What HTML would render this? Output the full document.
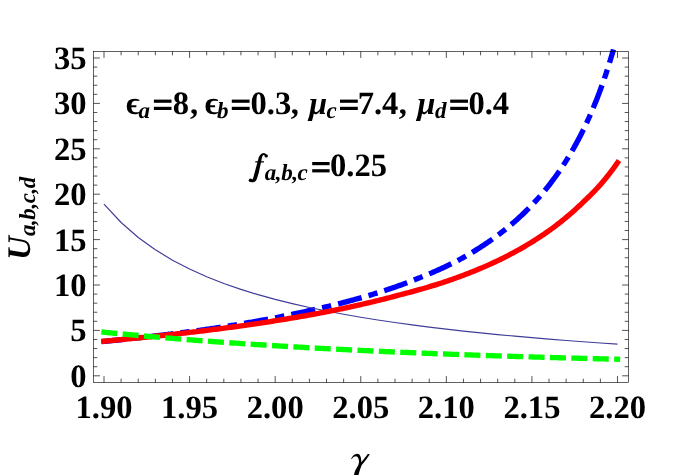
<!DOCTYPE html>
<html><head><meta charset="utf-8"><title>plot</title>
<style>html,body{margin:0;padding:0;background:#fff;}body{width:678px;height:475px;position:relative;overflow:hidden;font-family:"Liberation Serif",serif;}</style></head>
<body>
<svg width="678" height="475" viewBox="0 0 678 475" style="position:absolute;left:0;top:0;will-change:transform" text-rendering="geometricPrecision">
<rect width="678" height="475" fill="#fff"/>
<clipPath id="cp"><rect x="0" y="49" width="678" height="426"/></clipPath><g clip-path="url(#cp)">
<path d="M104.00,341.40 L105.28,341.27 L106.55,341.15 L107.83,341.02 L109.10,340.89 L110.38,340.77 L111.65,340.64 L112.93,340.51 L114.20,340.38 L115.48,340.25 L116.75,340.12 L118.03,339.99 L119.30,339.86 L120.58,339.73 L121.85,339.59 L123.13,339.46 L124.40,339.33 L125.68,339.19 L126.95,339.06 L128.23,338.92 L129.50,338.79 L130.78,338.65 L132.05,338.51 L133.33,338.38 L134.60,338.24 L135.88,338.10 L137.15,337.96 L138.43,337.82 L139.70,337.68 L140.98,337.54 L142.25,337.40 L143.53,337.25 L144.80,337.11 L146.08,336.97 L147.35,336.82 L148.63,336.68 L149.90,336.53 L151.18,336.39 L152.45,336.24 L153.73,336.09 L155.00,335.94 L156.28,335.80 L157.55,335.65 L158.83,335.50 L160.10,335.35 L161.38,335.19 L162.65,335.04 L163.93,334.89 L165.20,334.74 L166.48,334.58 L167.75,334.43 L169.03,334.27 L170.30,334.12 L171.58,333.96 L172.85,333.80 L174.13,333.64 L175.40,333.48 L176.68,333.32 L177.95,333.16 L179.23,333.00 L180.50,332.84 L181.78,332.68 L183.05,332.51 L184.33,332.35 L185.60,332.18 L186.88,332.02 L188.15,331.85 L189.43,331.68 L190.70,331.51 L191.98,331.35 L193.26,331.18 L194.53,331.01 L195.81,330.83 L197.08,330.66 L198.36,330.49 L199.63,330.31 L200.91,330.14 L202.18,329.96 L203.46,329.79 L204.73,329.61 L206.01,329.43 L207.28,329.25 L208.56,329.06 L209.83,328.87 L211.11,328.68 L212.38,328.49 L213.66,328.29 L214.93,328.10 L216.21,327.91 L217.48,327.71 L218.76,327.51 L220.03,327.32 L221.31,327.12 L222.58,326.92 L223.86,326.72 L225.13,326.52 L226.41,326.32 L227.68,326.11 L228.96,325.91 L230.23,325.70 L231.51,325.50 L232.78,325.29 L234.06,325.08 L235.33,324.87 L236.61,324.66 L237.88,324.45 L239.16,324.24 L240.43,324.03 L241.71,323.81 L242.98,323.60 L244.26,323.38 L245.53,323.16 L246.81,322.94 L248.08,322.72 L249.36,322.50 L250.63,322.28 L251.91,322.06 L253.18,321.83 L254.46,321.61 L255.73,321.38 L257.01,321.15 L258.28,320.92 L259.56,320.69 L260.83,320.46 L262.11,320.23 L263.38,319.99 L264.66,319.76 L265.93,319.52 L267.21,319.28 L268.48,319.05 L269.76,318.81 L271.03,318.56 L272.31,318.32 L273.58,318.08 L274.86,317.83 L276.13,317.58 L277.41,317.34 L278.68,317.09 L279.96,316.83 L281.24,316.58 L282.51,316.33 L283.79,316.07 L285.06,315.82 L286.34,315.56 L287.61,315.30 L288.89,315.04 L290.16,314.77 L291.44,314.51 L292.71,314.25 L293.99,313.98 L295.26,313.71 L296.54,313.44 L297.81,313.17 L299.09,312.89 L300.36,312.62 L301.64,312.34 L302.91,312.07 L304.19,311.79 L305.46,311.50 L306.74,311.22 L308.01,310.94 L309.29,310.65 L310.56,310.37 L311.84,310.09 L313.11,309.81 L314.39,309.52 L315.66,309.24 L316.94,308.95 L318.21,308.66 L319.49,308.37 L320.76,308.07 L322.04,307.78 L323.31,307.48 L324.59,307.18 L325.86,306.88 L327.14,306.58 L328.41,306.27 L329.69,305.97 L330.96,305.66 L332.24,305.35 L333.51,305.03 L334.79,304.72 L336.06,304.40 L337.34,304.08 L338.61,303.76 L339.89,303.44 L341.16,303.11 L342.44,302.79 L343.71,302.46 L344.99,302.12 L346.26,301.79 L347.54,301.45 L348.81,301.11 L350.09,300.77 L351.36,300.43 L352.64,300.08 L353.91,299.74 L355.19,299.38 L356.46,299.03 L357.74,298.68 L359.01,298.32 L360.29,297.96 L361.56,297.59 L362.84,297.23 L364.11,296.86 L365.39,296.49 L366.66,296.11 L367.94,295.74 L369.22,295.36 L370.49,294.98 L371.77,294.59 L373.04,294.21 L374.32,293.81 L375.59,293.42 L376.87,293.03 L378.14,292.63 L379.42,292.22 L380.69,291.82 L381.97,291.41 L383.24,291.00 L384.52,290.59 L385.79,290.17 L387.07,289.75 L388.34,289.32 L389.62,288.90 L390.89,288.47 L392.17,288.03 L393.44,287.60 L394.72,287.16 L395.99,286.71 L397.27,286.26 L398.54,285.81 L399.82,285.36 L401.09,284.90 L402.37,284.44 L403.64,283.97 L404.92,283.50 L406.19,283.03 L407.47,282.55 L408.74,282.07 L410.02,281.59 L411.29,281.10 L412.57,280.60 L413.84,280.11 L415.12,279.61 L416.39,279.10 L417.67,278.59 L418.94,278.08 L420.22,277.56 L421.49,277.05 L422.77,276.54 L424.04,276.03 L425.32,275.51 L426.59,274.98 L427.87,274.45 L429.14,273.92 L430.42,273.38 L431.69,272.83 L432.97,272.28 L434.24,271.73 L435.52,271.17 L436.79,270.60 L438.07,270.03 L439.34,269.46 L440.62,268.87 L441.89,268.29 L443.17,267.70 L444.44,267.10 L445.72,266.49 L446.99,265.89 L448.27,265.27 L449.54,264.65 L450.82,264.02 L452.09,263.39 L453.37,262.75 L454.64,262.10 L455.92,261.45 L457.20,260.79 L458.47,260.13 L459.75,259.45 L461.02,258.76 L462.30,258.06 L463.57,257.35 L464.85,256.63 L466.12,255.91 L467.40,255.18 L468.67,254.44 L469.95,253.69 L471.22,252.94 L472.50,252.18 L473.77,251.41 L475.05,250.63 L476.32,249.85 L477.60,249.05 L478.87,248.25 L480.15,247.44 L481.42,246.62 L482.70,245.79 L483.97,244.95 L485.25,244.10 L486.52,243.25 L487.80,242.38 L489.07,241.50 L490.35,240.62 L491.62,239.72 L492.90,238.82 L494.17,237.90 L495.45,236.97 L496.72,236.03 L498.00,235.09 L499.27,234.13 L500.55,233.15 L501.82,232.17 L503.10,231.18 L504.37,230.17 L505.65,229.15 L506.92,228.12 L508.20,227.08 L509.47,226.02 L510.75,224.95 L512.02,223.87 L513.30,222.77 L514.57,221.66 L515.85,220.53 L517.12,219.39 L518.40,218.24 L519.67,217.07 L520.95,215.89 L522.22,214.69 L523.50,213.47 L524.77,212.24 L526.05,210.99 L527.32,209.72 L528.60,208.44 L529.87,207.14 L531.15,205.82 L532.42,204.48 L533.70,203.13 L534.97,201.75 L536.25,200.36 L537.52,198.94 L538.80,197.51 L540.07,196.05 L541.35,194.57 L542.62,193.07 L543.90,191.55 L545.18,190.00 L546.45,188.44 L547.73,186.84 L549.00,185.23 L550.28,183.58 L551.55,181.91 L552.83,180.22 L554.10,178.50 L555.38,176.75 L556.65,174.97 L557.93,173.17 L559.20,171.33 L560.48,169.46 L561.75,167.56 L563.03,165.63 L564.30,163.67 L565.58,161.67 L566.85,159.64 L568.13,157.57 L569.40,155.47 L570.68,153.33 L571.95,151.15 L573.23,148.93 L574.50,146.67 L575.78,144.36 L577.05,142.02 L578.33,139.63 L579.60,137.19 L580.88,134.71 L582.15,132.18 L583.43,129.60 L584.70,126.96 L585.98,124.28 L587.25,121.54 L588.53,118.74 L589.80,115.89 L591.08,112.97 L592.35,110.00 L593.63,106.96 L594.90,103.85 L596.18,100.68 L597.45,97.43 L598.73,94.12 L600.00,90.72 L601.28,87.25 L602.55,83.70 L603.83,80.07 L605.10,76.34 L606.38,72.53 L607.65,68.63 L608.93,64.62 L610.20,60.52 L611.48,56.32 L612.75,52.00" fill="none" stroke="#0000ff" stroke-width="5.35" stroke-linecap="square" stroke-dasharray="19 12.5 4 12.5" stroke-dashoffset="0"/>
<path d="M104.00,204.02 L121.12,222.51 L138.23,237.45 L155.35,249.79 L172.47,260.18 L189.58,269.05 L206.70,276.73 L223.82,283.45 L240.93,289.38 L258.05,294.66 L275.17,299.39 L292.28,303.65 L309.40,307.52 L326.52,311.05 L343.63,314.28 L360.75,317.25 L377.87,319.99 L394.98,322.53 L412.10,324.89 L429.22,327.08 L446.33,329.14 L463.45,331.06 L480.57,332.86 L497.68,334.56 L514.80,336.16 L531.92,337.67 L549.03,339.10 L566.15,340.46 L583.27,341.74 L600.38,342.96 L617.50,344.13" fill="none" stroke="#3f3d99" stroke-width="1.15" stroke-linejoin="round"/>
<path d="M104.00,341.20 L105.72,341.04 L107.43,340.89 L109.15,340.73 L110.87,340.57 L112.59,340.42 L114.30,340.26 L116.02,340.10 L117.74,339.94 L119.46,339.78 L121.17,339.62 L122.89,339.45 L124.61,339.29 L126.33,339.13 L128.04,338.96 L129.76,338.80 L131.48,338.63 L133.20,338.46 L134.91,338.29 L136.63,338.12 L138.35,337.95 L140.07,337.78 L141.78,337.61 L143.50,337.44 L145.22,337.26 L146.93,337.09 L148.65,336.91 L150.37,336.74 L152.09,336.56 L153.80,336.38 L155.52,336.20 L157.24,336.02 L158.96,335.84 L160.67,335.66 L162.39,335.47 L164.11,335.29 L165.83,335.10 L167.54,334.92 L169.26,334.73 L170.98,334.54 L172.70,334.35 L174.41,334.16 L176.13,333.97 L177.85,333.78 L179.57,333.58 L181.28,333.39 L183.00,333.19 L184.72,333.00 L186.43,332.80 L188.15,332.60 L189.87,332.40 L191.59,332.20 L193.30,332.00 L195.02,331.79 L196.74,331.59 L198.46,331.38 L200.17,331.17 L201.89,330.97 L203.61,330.76 L205.33,330.54 L207.04,330.33 L208.76,330.12 L210.48,329.91 L212.20,329.69 L213.91,329.47 L215.63,329.25 L217.35,329.03 L219.07,328.81 L220.78,328.59 L222.50,328.37 L224.22,328.14 L225.93,327.92 L227.65,327.69 L229.37,327.46 L231.09,327.23 L232.80,327.00 L234.52,326.76 L236.24,326.53 L237.96,326.29 L239.67,326.06 L241.39,325.82 L243.11,325.58 L244.83,325.34 L246.54,325.09 L248.26,324.85 L249.98,324.60 L251.70,324.35 L253.41,324.10 L255.13,323.85 L256.85,323.60 L258.57,323.34 L260.28,323.09 L262.00,322.83 L263.72,322.57 L265.43,322.31 L267.15,322.05 L268.87,321.78 L270.59,321.52 L272.30,321.25 L274.02,320.98 L275.74,320.71 L277.46,320.43 L279.17,320.16 L280.89,319.88 L282.61,319.60 L284.33,319.32 L286.04,319.04 L287.76,318.76 L289.48,318.47 L291.20,318.18 L292.91,317.89 L294.63,317.60 L296.35,317.30 L298.07,317.01 L299.78,316.71 L301.50,316.41 L303.22,316.11 L304.93,315.80 L306.65,315.50 L308.37,315.19 L310.09,314.88 L311.80,314.56 L313.52,314.25 L315.24,313.93 L316.96,313.61 L318.67,313.29 L320.39,312.96 L322.11,312.64 L323.83,312.31 L325.54,311.97 L327.26,311.64 L328.98,311.30 L330.70,310.96 L332.41,310.62 L334.13,310.28 L335.85,309.93 L337.57,309.58 L339.28,309.23 L341.00,308.87 L342.72,308.52 L344.43,308.16 L346.15,307.79 L347.87,307.43 L349.59,307.06 L351.30,306.69 L353.02,306.31 L354.74,305.94 L356.46,305.56 L358.17,305.17 L359.89,304.79 L361.61,304.40 L363.33,304.01 L365.04,303.61 L366.76,303.21 L368.48,302.81 L370.20,302.41 L371.91,302.00 L373.63,301.59 L375.35,301.17 L377.07,300.75 L378.78,300.33 L380.50,299.90 L382.22,299.48 L383.93,299.04 L385.65,298.61 L387.37,298.17 L389.09,297.72 L390.80,297.28 L392.52,296.83 L394.24,296.37 L395.96,295.91 L397.67,295.45 L399.39,294.98 L401.11,294.53 L402.83,294.09 L404.54,293.65 L406.26,293.20 L407.98,292.74 L409.70,292.29 L411.41,291.82 L413.13,291.36 L414.85,290.89 L416.57,290.41 L418.28,289.93 L420.00,289.44 L421.72,288.95 L423.43,288.46 L425.15,287.96 L426.87,287.45 L428.59,286.94 L430.30,286.43 L432.02,285.91 L433.74,285.38 L435.46,284.85 L437.17,284.32 L438.89,283.77 L440.61,283.23 L442.33,282.67 L444.04,282.11 L445.76,281.55 L447.48,280.98 L449.20,280.40 L450.91,279.81 L452.63,279.20 L454.35,278.59 L456.07,277.97 L457.78,277.35 L459.50,276.71 L461.22,276.07 L462.93,275.43 L464.65,274.78 L466.37,274.12 L468.09,273.45 L469.80,272.78 L471.52,272.09 L473.24,271.40 L474.96,270.71 L476.67,270.00 L478.39,269.29 L480.11,268.57 L481.83,267.84 L483.54,267.11 L485.26,266.36 L486.98,265.61 L488.70,264.84 L490.41,264.07 L492.13,263.29 L493.85,262.50 L495.57,261.71 L497.28,260.90 L499.00,260.08 L500.72,259.25 L502.43,258.39 L504.15,257.53 L505.87,256.66 L507.59,255.78 L509.30,254.88 L511.02,253.98 L512.74,253.07 L514.46,252.14 L516.17,251.20 L517.89,250.25 L519.61,249.29 L521.33,248.31 L523.04,247.33 L524.76,246.33 L526.48,245.31 L528.20,244.29 L529.91,243.25 L531.63,242.20 L533.35,241.13 L535.07,240.05 L536.78,238.95 L538.50,237.84 L540.22,236.72 L541.93,235.57 L543.65,234.42 L545.37,233.24 L547.09,232.05 L548.80,230.85 L550.52,229.62 L552.24,228.36 L553.96,227.08 L555.67,225.78 L557.39,224.47 L559.11,223.13 L560.83,221.78 L562.54,220.40 L564.26,219.01 L565.98,217.59 L567.70,216.15 L569.41,214.69 L571.13,213.21 L572.85,211.71 L574.57,210.18 L576.28,208.63 L578.00,207.05 L579.72,205.44 L581.43,203.82 L583.15,202.16 L584.87,200.52 L586.59,198.89 L588.30,197.24 L590.02,195.56 L591.74,193.84 L593.46,192.10 L595.17,190.32 L596.89,188.51 L598.61,186.67 L600.33,184.79 L602.04,182.81 L603.76,180.73 L605.48,178.63 L607.20,176.48 L608.91,174.29 L610.63,172.06 L612.35,169.79 L614.07,167.48 L615.78,165.12 L617.50,162.72" fill="none" stroke="#ff0000" stroke-width="5.35" stroke-linecap="square"/>
<path d="M104.00,332.24 L105.72,332.41 L107.43,332.58 L109.15,332.75 L110.87,332.91 L112.59,333.08 L114.30,333.25 L116.02,333.41 L117.74,333.57 L119.46,333.74 L121.17,333.90 L122.89,334.06 L124.61,334.22 L126.33,334.38 L128.04,334.54 L129.76,334.70 L131.48,334.86 L133.20,335.02 L134.91,335.17 L136.63,335.33 L138.35,335.49 L140.07,335.64 L141.78,335.79 L143.50,335.95 L145.22,336.10 L146.93,336.25 L148.65,336.40 L150.37,336.55 L152.09,336.70 L153.80,336.85 L155.52,337.00 L157.24,337.14 L158.96,337.29 L160.67,337.44 L162.39,337.58 L164.11,337.72 L165.83,337.87 L167.54,338.01 L169.26,338.15 L170.98,338.29 L172.70,338.44 L174.41,338.58 L176.13,338.72 L177.85,338.85 L179.57,338.99 L181.28,339.13 L183.00,339.27 L184.72,339.40 L186.43,339.54 L188.15,339.67 L189.87,339.81 L191.59,339.94 L193.30,340.07 L195.02,340.21 L196.74,340.34 L198.46,340.47 L200.17,340.60 L201.89,340.73 L203.61,340.86 L205.33,340.99 L207.04,341.11 L208.76,341.24 L210.48,341.37 L212.20,341.49 L213.91,341.62 L215.63,341.74 L217.35,341.87 L219.07,341.99 L220.78,342.12 L222.50,342.24 L224.22,342.36 L225.93,342.48 L227.65,342.60 L229.37,342.72 L231.09,342.84 L232.80,342.96 L234.52,343.08 L236.24,343.20 L237.96,343.31 L239.67,343.43 L241.39,343.55 L243.11,343.66 L244.83,343.78 L246.54,343.89 L248.26,344.01 L249.98,344.12 L251.70,344.23 L253.41,344.34 L255.13,344.46 L256.85,344.57 L258.57,344.68 L260.28,344.79 L262.00,344.90 L263.72,345.01 L265.43,345.12 L267.15,345.22 L268.87,345.33 L270.59,345.44 L272.30,345.54 L274.02,345.65 L275.74,345.76 L277.46,345.86 L279.17,345.97 L280.89,346.07 L282.61,346.17 L284.33,346.28 L286.04,346.38 L287.76,346.48 L289.48,346.58 L291.20,346.68 L292.91,346.78 L294.63,346.88 L296.35,346.98 L298.07,347.08 L299.78,347.18 L301.50,347.28 L303.22,347.38 L304.93,347.47 L306.65,347.57 L308.37,347.67 L310.09,347.76 L311.80,347.86 L313.52,347.95 L315.24,348.05 L316.96,348.14 L318.67,348.23 L320.39,348.33 L322.11,348.42 L323.83,348.51 L325.54,348.60 L327.26,348.70 L328.98,348.79 L330.70,348.88 L332.41,348.97 L334.13,349.06 L335.85,349.15 L337.57,349.23 L339.28,349.32 L341.00,349.41 L342.72,349.50 L344.43,349.58 L346.15,349.67 L347.87,349.76 L349.59,349.84 L351.30,349.93 L353.02,350.01 L354.74,350.10 L356.46,350.18 L358.17,350.27 L359.89,350.35 L361.61,350.43 L363.33,350.51 L365.04,350.60 L366.76,350.68 L368.48,350.76 L370.20,350.84 L371.91,350.92 L373.63,351.00 L375.35,351.08 L377.07,351.16 L378.78,351.24 L380.50,351.32 L382.22,351.40 L383.93,351.47 L385.65,351.55 L387.37,351.63 L389.09,351.71 L390.80,351.78 L392.52,351.86 L394.24,351.93 L395.96,352.01 L397.67,352.08 L399.39,352.16 L401.11,352.23 L402.83,352.31 L404.54,352.38 L406.26,352.45 L407.98,352.53 L409.70,352.60 L411.41,352.67 L413.13,352.74 L414.85,352.81 L416.57,352.88 L418.28,352.96 L420.00,353.03 L421.72,353.10 L423.43,353.17 L425.15,353.23 L426.87,353.30 L428.59,353.37 L430.30,353.44 L432.02,353.51 L433.74,353.58 L435.46,353.64 L437.17,353.71 L438.89,353.78 L440.61,353.84 L442.33,353.91 L444.04,353.98 L445.76,354.04 L447.48,354.11 L449.20,354.17 L450.91,354.24 L452.63,354.30 L454.35,354.36 L456.07,354.43 L457.78,354.49 L459.50,354.55 L461.22,354.62 L462.93,354.68 L464.65,354.74 L466.37,354.80 L468.09,354.86 L469.80,354.93 L471.52,354.99 L473.24,355.05 L474.96,355.11 L476.67,355.17 L478.39,355.23 L480.11,355.29 L481.83,355.35 L483.54,355.41 L485.26,355.46 L486.98,355.52 L488.70,355.58 L490.41,355.64 L492.13,355.70 L493.85,355.75 L495.57,355.81 L497.28,355.87 L499.00,355.92 L500.72,355.98 L502.43,356.03 L504.15,356.09 L505.87,356.15 L507.59,356.20 L509.30,356.26 L511.02,356.31 L512.74,356.36 L514.46,356.42 L516.17,356.47 L517.89,356.53 L519.61,356.58 L521.33,356.63 L523.04,356.68 L524.76,356.74 L526.48,356.79 L528.20,356.84 L529.91,356.89 L531.63,356.94 L533.35,357.00 L535.07,357.05 L536.78,357.10 L538.50,357.15 L540.22,357.20 L541.93,357.25 L543.65,357.30 L545.37,357.35 L547.09,357.40 L548.80,357.45 L550.52,357.49 L552.24,357.54 L553.96,357.59 L555.67,357.64 L557.39,357.69 L559.11,357.73 L560.83,357.78 L562.54,357.83 L564.26,357.88 L565.98,357.92 L567.70,357.97 L569.41,358.02 L571.13,358.06 L572.85,358.11 L574.57,358.15 L576.28,358.20 L578.00,358.24 L579.72,358.29 L581.43,358.33 L583.15,358.38 L584.87,358.42 L586.59,358.47 L588.30,358.51 L590.02,358.55 L591.74,358.60 L593.46,358.64 L595.17,358.68 L596.89,358.73 L598.61,358.77 L600.33,358.81 L602.04,358.85 L603.76,358.90 L605.48,358.94 L607.20,358.98 L608.91,359.02 L610.63,359.06 L612.35,359.10 L614.07,359.14 L615.78,359.18 L617.50,359.23" fill="none" stroke="#00ff00" stroke-width="5.35" stroke-linecap="square" stroke-dasharray="10.7 10.7"/>
</g>
<rect x="93.5" y="51.5" width="535.0" height="331.0" fill="none" stroke="#000" stroke-width="0.62"/>
<path d="M104.00,382.5v-6.4M104.00,51.5v6.4M121.12,382.5v-3.8M121.12,51.5v3.8M138.23,382.5v-3.8M138.23,51.5v3.8M155.35,382.5v-3.8M155.35,51.5v3.8M172.47,382.5v-3.8M172.47,51.5v3.8M189.58,382.5v-6.4M189.58,51.5v6.4M206.70,382.5v-3.8M206.70,51.5v3.8M223.82,382.5v-3.8M223.82,51.5v3.8M240.93,382.5v-3.8M240.93,51.5v3.8M258.05,382.5v-3.8M258.05,51.5v3.8M275.17,382.5v-6.4M275.17,51.5v6.4M292.28,382.5v-3.8M292.28,51.5v3.8M309.40,382.5v-3.8M309.40,51.5v3.8M326.52,382.5v-3.8M326.52,51.5v3.8M343.63,382.5v-3.8M343.63,51.5v3.8M360.75,382.5v-6.4M360.75,51.5v6.4M377.87,382.5v-3.8M377.87,51.5v3.8M394.98,382.5v-3.8M394.98,51.5v3.8M412.10,382.5v-3.8M412.10,51.5v3.8M429.22,382.5v-3.8M429.22,51.5v3.8M446.33,382.5v-6.4M446.33,51.5v6.4M463.45,382.5v-3.8M463.45,51.5v3.8M480.57,382.5v-3.8M480.57,51.5v3.8M497.68,382.5v-3.8M497.68,51.5v3.8M514.80,382.5v-3.8M514.80,51.5v3.8M531.92,382.5v-6.4M531.92,51.5v6.4M549.03,382.5v-3.8M549.03,51.5v3.8M566.15,382.5v-3.8M566.15,51.5v3.8M583.27,382.5v-3.8M583.27,51.5v3.8M600.38,382.5v-3.8M600.38,51.5v3.8M617.50,382.5v-6.4M617.50,51.5v6.4M93.5,375.80h6.4M628.5,375.80h-6.4M93.5,366.72h3.8M628.5,366.72h-3.8M93.5,357.64h3.8M628.5,357.64h-3.8M93.5,348.56h3.8M628.5,348.56h-3.8M93.5,339.48h3.8M628.5,339.48h-3.8M93.5,330.40h6.4M628.5,330.40h-6.4M93.5,321.32h3.8M628.5,321.32h-3.8M93.5,312.24h3.8M628.5,312.24h-3.8M93.5,303.16h3.8M628.5,303.16h-3.8M93.5,294.08h3.8M628.5,294.08h-3.8M93.5,285.00h6.4M628.5,285.00h-6.4M93.5,275.92h3.8M628.5,275.92h-3.8M93.5,266.84h3.8M628.5,266.84h-3.8M93.5,257.76h3.8M628.5,257.76h-3.8M93.5,248.68h3.8M628.5,248.68h-3.8M93.5,239.60h6.4M628.5,239.60h-6.4M93.5,230.52h3.8M628.5,230.52h-3.8M93.5,221.44h3.8M628.5,221.44h-3.8M93.5,212.36h3.8M628.5,212.36h-3.8M93.5,203.28h3.8M628.5,203.28h-3.8M93.5,194.20h6.4M628.5,194.20h-6.4M93.5,185.12h3.8M628.5,185.12h-3.8M93.5,176.04h3.8M628.5,176.04h-3.8M93.5,166.96h3.8M628.5,166.96h-3.8M93.5,157.88h3.8M628.5,157.88h-3.8M93.5,148.80h6.4M628.5,148.80h-6.4M93.5,139.72h3.8M628.5,139.72h-3.8M93.5,130.64h3.8M628.5,130.64h-3.8M93.5,121.56h3.8M628.5,121.56h-3.8M93.5,112.48h3.8M628.5,112.48h-3.8M93.5,103.40h6.4M628.5,103.40h-6.4M93.5,94.32h3.8M628.5,94.32h-3.8M93.5,85.24h3.8M628.5,85.24h-3.8M93.5,76.16h3.8M628.5,76.16h-3.8M93.5,67.08h3.8M628.5,67.08h-3.8M93.5,58.00h6.4M628.5,58.00h-6.4" fill="none" stroke="#000" stroke-width="0.68"/>
<g font-family="Liberation Serif, serif" font-weight="bold" font-size="32.6" fill="#000">
<text x="104.00" y="418.3" text-anchor="middle">1.90</text>
<text x="189.58" y="418.3" text-anchor="middle">1.95</text>
<text x="275.17" y="418.3" text-anchor="middle">2.00</text>
<text x="360.75" y="418.3" text-anchor="middle">2.05</text>
<text x="446.33" y="418.3" text-anchor="middle">2.10</text>
<text x="531.92" y="418.3" text-anchor="middle">2.15</text>
<text x="617.50" y="418.3" text-anchor="middle">2.20</text>
<text x="86.6" y="386.80" text-anchor="end">0</text>
<text x="86.6" y="341.40" text-anchor="end">5</text>
<text x="86.6" y="296.00" text-anchor="end">10</text>
<text x="86.6" y="250.60" text-anchor="end">15</text>
<text x="86.6" y="205.20" text-anchor="end">20</text>
<text x="86.6" y="159.80" text-anchor="end">25</text>
<text x="86.6" y="114.40" text-anchor="end">30</text>
<text x="86.6" y="69.00" text-anchor="end">35</text>
</g>
<path transform="translate(340,445) scale(0.06317)" d="M178,218 C190,175 230,140 275,138 C315,138 338,190 338,272 C360,250 400,195 440,142 L472,143 C452,185 400,255 342,320 C332,345 312,400 288,490 L222,490 C222,450 240,400 275,345 C295,315 302,290 300,255 C298,215 280,182 255,180 C225,180 200,200 186,224 Z" fill="#000"/>
<g transform="translate(29.5,218.5) rotate(-90)"><text x="0" y="0" text-anchor="middle" font-family="Liberation Serif, serif" font-weight="bold" font-style="italic" font-size="33">U<tspan font-size="23" dy="5.5" letter-spacing="-0.43">a,b,c,d</tspan></text></g>
<g font-family="Liberation Serif, serif" font-weight="bold" fill="#000">
<text x="125.90" y="114.00" font-size="32.6">ϵ</text>
<text x="138.60" y="117.80" font-style="italic" font-size="23">a</text>
<text x="172.70" y="114.00" font-size="32.6">8</text>
<text x="190.00" y="114.00" font-size="32.6">,</text>
<text x="204.70" y="114.00" font-size="32.6">ϵ</text>
<text x="217.10" y="117.80" font-style="italic" font-size="23">b</text>
<text x="250.50" y="114.00" font-size="32.6">0.3</text>
<text x="290.70" y="114.00" font-size="32.6">,</text>
<text x="309.10" y="114.00" font-style="italic" font-size="32.6">μ</text>
<text x="326.60" y="117.80" font-style="italic" font-size="23">c</text>
<text x="357.70" y="114.00" font-size="32.6">7.4</text>
<text x="398.80" y="114.00" font-size="32.6">,</text>
<text x="417.20" y="114.00" font-style="italic" font-size="32.6">μ</text>
<text x="434.90" y="117.80" font-style="italic" font-size="23">d</text>
<text x="468.40" y="114.00" font-size="32.6">0.4</text>
<text x="264.80" y="180.20" font-style="italic" letter-spacing="-0.45" font-size="23">a,b,c</text>
<text x="330.00" y="176.40" font-size="32.6">0.25</text>
<rect x="153.90" y="99.60" width="17.60" height="3.2"/><rect x="153.90" y="106.80" width="17.60" height="3.2"/>
<rect x="231.80" y="99.60" width="17.80" height="3.2"/><rect x="231.80" y="106.80" width="17.80" height="3.2"/>
<rect x="340.00" y="99.60" width="17.80" height="3.2"/><rect x="340.00" y="106.80" width="17.80" height="3.2"/>
<rect x="450.20" y="99.60" width="17.80" height="3.2"/><rect x="450.20" y="106.80" width="17.80" height="3.2"/>
<rect x="312.20" y="162.00" width="17.40" height="3.2"/><rect x="312.20" y="169.20" width="17.40" height="3.2"/>
<g transform="translate(242,146) scale(0.08850)"><path d="M250,80 L275,93 L262,118 C255,100 240,98 232,112 C225,125 222,150 218,170 L190,300 L172,360 C165,385 150,410 125,410 C105,410 85,405 80,395 L100,372 C112,385 120,380 128,355 L183,152 C192,115 212,80 250,80 Z"/><circle cx="274" cy="112" r="19"/><circle cx="96" cy="386" r="20"/><rect x="150" y="172" width="98" height="14"/></g>
</g>
</svg>
</body></html>
